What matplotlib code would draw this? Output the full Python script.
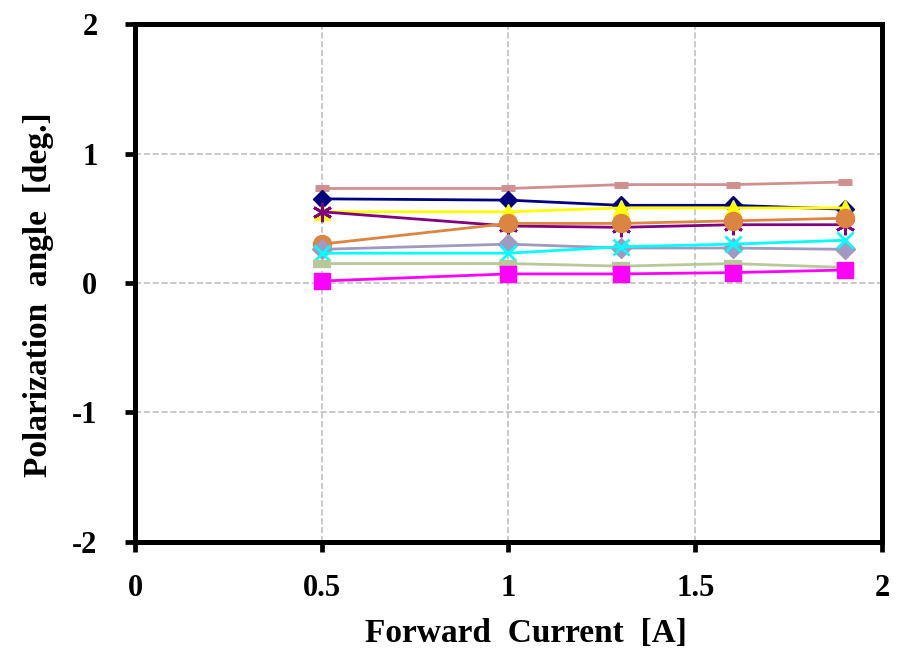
import matplotlib
matplotlib.use('Agg')
import matplotlib.pyplot as plt

# forward current values [A]
current = [0.5, 1.0, 1.3, 1.6, 1.9]

# polarization angle series [deg.]
s_rosy = [0.73, 0.73, 0.76, 0.76, 0.78]
s_navy = [0.65, 0.64, 0.60, 0.60, 0.57]
s_yellow = [0.55, 0.55, 0.58, 0.58, 0.58]
s_purple = [0.55, 0.44, 0.43, 0.45, 0.45]
s_orange = [0.30, 0.46, 0.46, 0.48, 0.50]
s_lavender = [0.26, 0.30, 0.27, 0.27, 0.26]
s_cyan = [0.23, 0.23, 0.28, 0.30, 0.33]
s_sage = [0.15, 0.15, 0.13, 0.15, 0.12]
s_magenta = [0.015, 0.07, 0.07, 0.08, 0.10]

xtick_vals = [0, 0.5, 1, 1.5, 2]
xtick_labels = ['0', '0.5', '1', '1.5', '2']
ytick_vals = [-2, -1, 0, 1, 2]
ytick_labels = ['-2', '-1', '0', '1', '2']

plt.rcParams['font.family'] = ['Liberation Serif']
plt.rcParams['font.weight'] = 'bold'

fig = plt.figure(figsize=(9.06, 6.52), dpi=100)
ax = fig.add_axes([0.149, 0.169, 0.8245, 0.794])

ax.plot(current, s_rosy, color='#d09090', lw=2, marker='_', ms=10, mew=5)
ax.plot(current, s_navy, color='#000080', lw=2, marker='D', ms=9)
ax.plot(current, s_yellow, color='#ffff00', lw=2, marker='^', ms=12)
ax.plot(current, s_purple, color='#800080', lw=2, marker=(6, 2, 0), ms=14, mew=2)
ax.plot(current, s_orange, color='#dc8540', lw=2, marker='o', ms=13)
ax.plot(current, s_lavender, color='#a099c0', lw=2, marker='D', ms=10)
ax.plot(current, s_cyan, color='#00ffff', lw=2, marker='x', ms=11, mew=2)
ax.plot(current, s_sage, color='#b8c898', lw=2, marker='_', ms=13, mew=6)
ax.plot(current, s_magenta, color='#ff00ff', lw=2, marker='s', ms=12)

ax.set_xlim(0, 2)
ax.set_ylim(-2, 2)
ax.set_xticks(xtick_vals)
ax.set_xticklabels(xtick_labels)
ax.set_yticks(ytick_vals)
ax.set_yticklabels(ytick_labels)
ax.grid(True, color='#c0c0c0', linestyle='--', lw=1.2)

for sp in ax.spines.values():
    sp.set_linewidth(3.6)
ax.tick_params(direction='out', length=7, width=3.4, labelsize=22)
ax.tick_params(axis='x', pad=16)
ax.tick_params(axis='y', pad=20)
for lab in ax.get_xticklabels() + ax.get_yticklabels():
    lab.set_fontweight('bold')

ax.set_xlabel('Forward  Current  [A]', fontsize=24, fontweight='bold')
ax.set_ylabel('Polarization  angle  [deg.]', fontsize=24, fontweight='bold')
ax.xaxis.set_label_coords(0.523, -0.147)
ax.yaxis.set_label_coords(-0.109, 0.477)

fig.savefig('out.png', dpi=100)
